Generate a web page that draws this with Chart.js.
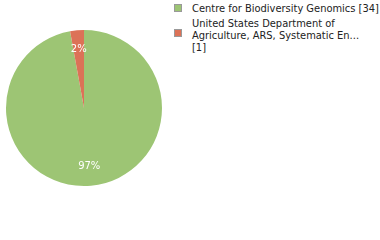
<!DOCTYPE html>
<html>
<head>
<meta charset="utf-8">
<script src="https://cdn.jsdelivr.net/npm/chart.js@4/dist/chart.umd.min.js"></script>
<style>
    html, body { margin: 0; padding: 0; background: #fff; }
    #wrap { position: relative; width: 380px; height: 240px; }
    #pieBox { position: absolute; left: 0; top: 0; width: 168px; height: 216px; }
    #legend { position: absolute; left: 174px; top: 3px; width: 198px;
        font-family: "DejaVu Sans Condensed", "DejaVu Sans", sans-serif; font-size: 11px;
        line-height: 12px; color: #222; }
    .item { position: relative; padding-left: 18px; margin-bottom: 3px; }
    .item.short { white-space: nowrap; }
    .box { position: absolute; left: 0; width: 6px; height: 6px; border: 1px solid #999; }
</style>
</head>
<body>
<div id="wrap">
    <div id="pieBox"><canvas id="pie"></canvas></div>
    <div id="legend"></div>
</div>
<script>
(function () {
    const labels = ['Centre for Biodiversity Genomics', 'United States Department of Agriculture, ARS, Systematic En...'];
    const counts = [34, 1];
    const colors = ['#9dc574', '#dc7257'];

    const total = counts.reduce((a, b) => a + b, 0);

    // legend on the right, HTML so the long name wraps
    const legend = document.getElementById('legend');
    labels.forEach((label, i) => {
        const item = document.createElement('div');
        item.className = label.length < 40 ? 'item short' : 'item';
        item.innerHTML = `<span class="box" style="background:${colors[i]};top:${i === 0 ? 1 : 11}px"></span>${label} [${counts[i]}]`;
        legend.appendChild(item);
    });

    const pctLabels = {
        id: 'pctLabels',
        afterDatasetsDraw(chart) {
            const ctx = chart.ctx;
            const meta = chart.getDatasetMeta(0);
            ctx.save();
            ctx.font = '10px "DejaVu Sans", sans-serif';
            ctx.fillStyle = '#fff';
            ctx.textAlign = 'center';
            ctx.textBaseline = 'middle';
            meta.data.forEach((arc, i) => {
                const mid = (arc.startAngle + arc.endAngle) / 2;
                const r = arc.outerRadius * 0.75;
                const x = arc.x + Math.cos(mid) * r;
                const y = arc.y + Math.sin(mid) * r;
                const pct = Math.floor(counts[i] / total * 100);
                ctx.fillText(pct + '%', x, y);
            });
            ctx.restore();
        },
    };

    new Chart(document.getElementById('pie'), {
        type: 'pie',
        data: {
            labels: labels,
            datasets: [{
                data: counts,
                backgroundColor: colors,
                borderWidth: 0,
            }],
        },
        options: {
            responsive: true,
            maintainAspectRatio: false,
            animation: false,
            layout: { padding: 6 },
            plugins: {
                legend: { display: false },
                tooltip: { enabled: false },
            },
        },
        plugins: [pctLabels],
    });
})();
</script>
</body>
</html>
